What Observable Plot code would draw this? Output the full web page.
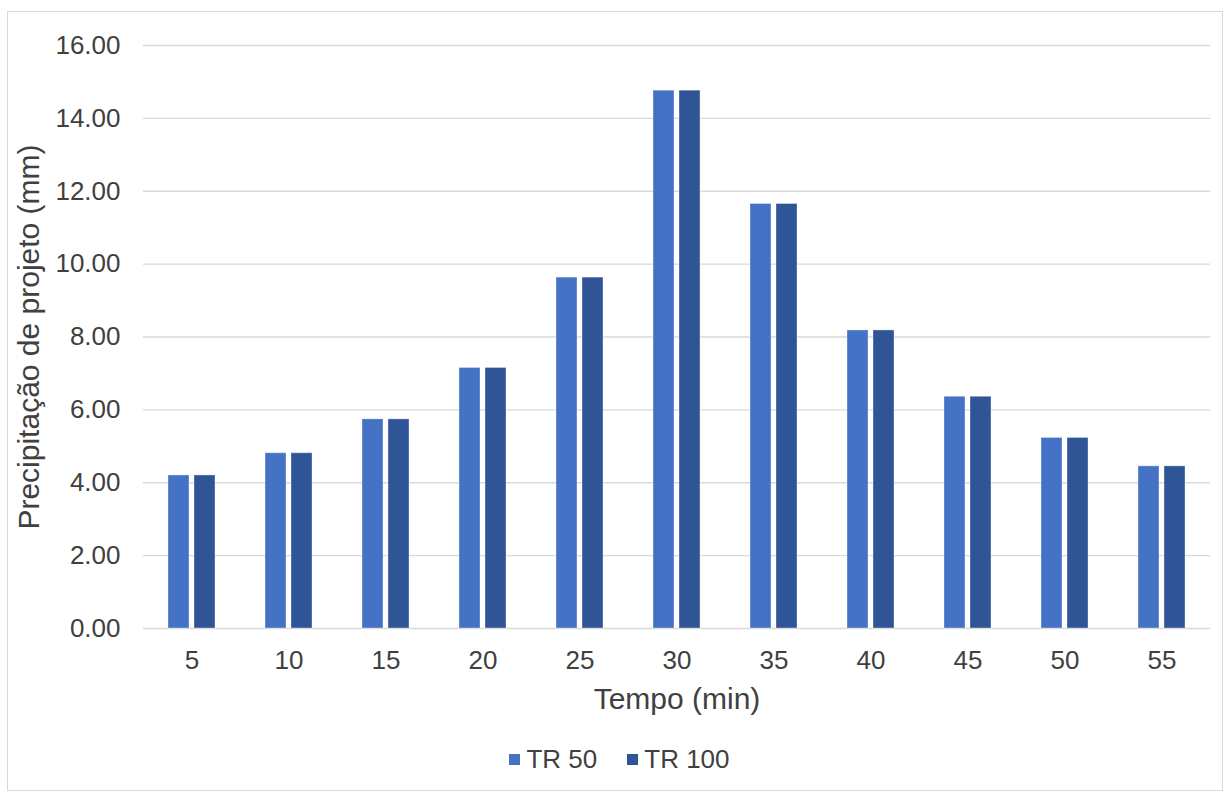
<!DOCTYPE html>
<html>
<head>
<meta charset="utf-8">
<script src="https://cdn.jsdelivr.net/npm/d3@7"></script>
<script src="https://cdn.jsdelivr.net/npm/@observablehq/plot@0.6"></script>
<style>
  html, body { margin: 0; padding: 0; background: #fff; }
  body { width: 1223px; height: 796px; position: relative; overflow: hidden; font-family: "Liberation Sans", Arial, sans-serif; }
  #frame { position: absolute; left: 7px; top: 11px; width: 1216px; height: 780px; border: 1px solid #d9d9d9; box-sizing: border-box; }
  #chart { position: absolute; left: 0; top: 0; }
  #legend { position: absolute; left: 0; top: 744px; width: 1223px; display: flex; justify-content: center; gap: 30px; font-size: 26px; color: #404040; padding-left: 16px; box-sizing: border-box; }
  .item { display: flex; align-items: center; gap: 6px; }
  .sw { width: 11px; height: 11px; display: inline-block; }
</style>
</head>
<body>
<div id="frame"></div>
<div id="chart"></div>
<div id="legend"></div>
<script>
const categories = [5, 10, 15, 20, 25, 30, 35, 40, 45, 50, 55];
const seriesNames = ["TR 50", "TR 100"];
const tr50 = [4.20, 4.81, 5.74, 7.15, 9.63, 14.76, 11.65, 8.18, 6.36, 5.23, 4.45];
const tr100 = [4.20, 4.81, 5.74, 7.15, 9.63, 14.76, 11.65, 8.18, 6.36, 5.23, 4.45];
const colors = ["#4472C4", "#2F5597"];
const yTicks = [0, 2, 4, 6, 8, 10, 12, 14, 16];

const rows = [];
categories.forEach((c, i) => {
  rows.push({cat: c, series: seriesNames[0], value: tr50[i]});
  rows.push({cat: c, series: seriesNames[1], value: tr100[i]});
});

const plot = Plot.plot({
  width: 1223,
  height: 720,
  marginLeft: 140,
  marginRight: 10,
  marginTop: 45,
  marginBottom: 92,
  style: {fontFamily: "'Liberation Sans', Arial, sans-serif", fontSize: "26px", color: "#404040", background: "transparent"},
  fx: {domain: categories, padding: 0, label: "Tempo (min)", labelAnchor: "center", labelOffset: 80, tickSize: 0, tickPadding: 22},
  x: {domain: seriesNames, paddingInner: 0.185, paddingOuter: 0.898, axis: null},
  y: {domain: [0, 16], ticks: yTicks, tickFormat: d => d.toFixed(2), label: "Precipitação de projeto (mm)", labelArrow: false, labelAnchor: "center", labelOffset: 126, tickSize: 0, tickPadding: 23},
  color: {domain: seriesNames, range: colors},
  marks: [
    Plot.ruleY(yTicks, {stroke: "#d9d9d9", strokeWidth: 1.3}),
    Plot.barY(rows, {fx: "cat", x: "series", y: "value", fill: "series", stroke: "#ffffff", strokeOpacity: 0.35, strokeWidth: 1})
  ]
});
document.getElementById("chart").appendChild(plot);

const lg = document.getElementById("legend");
seriesNames.forEach((s, i) => {
  const it = document.createElement("div");
  it.className = "item";
  const sw = document.createElement("span");
  sw.className = "sw";
  sw.style.background = colors[i];
  const t = document.createElement("span");
  t.textContent = s;
  it.appendChild(sw); it.appendChild(t);
  lg.appendChild(it);
});

// font sizes: tick labels, then axis titles
plot.querySelectorAll('g[aria-label*="axis"], g[aria-label*="axis"] text').forEach(t => { t.style.fontSize = "26px"; t.removeAttribute("font-size"); });
plot.querySelectorAll('g[aria-label="y-axis label"], g[aria-label="y-axis label"] text, g[aria-label="y-axis"] > text').forEach(t => t.style.fontSize = "30px");
plot.querySelectorAll('g[aria-label="fx-axis label"], g[aria-label="fx-axis label"] text, g[aria-label="fx-axis"] > text').forEach(t => t.style.fontSize = "30px");
</script>
</body>
</html>
